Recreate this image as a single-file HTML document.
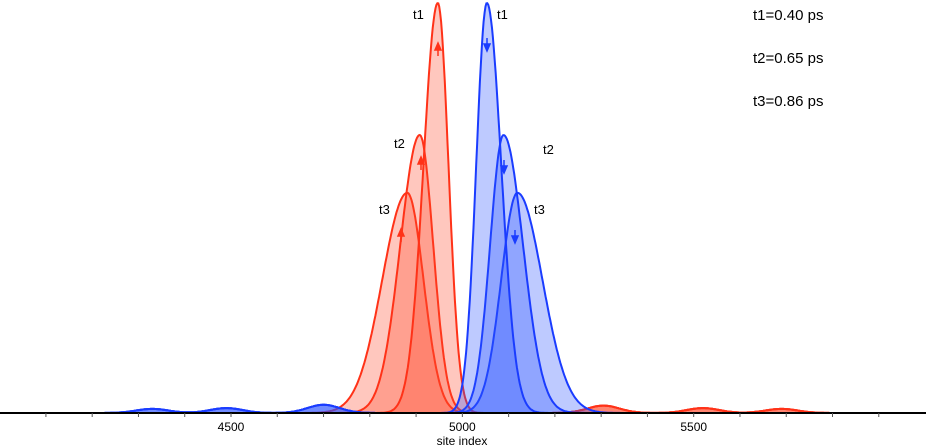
<!DOCTYPE html>
<html><head><meta charset="utf-8"><style>
html,body{margin:0;padding:0;background:#fff;}
svg{display:block;font-family:"Liberation Sans",sans-serif;}
</style></head><body>
<svg id="chart" width="926" height="448"></svg>
<script>
const times=["t1","t2","t3"];
const timeValues=["0.40","0.65","0.86"];
const redCenters=[4947,4908,4881];
const blueCenters=[5053,5089,5119];
const amplitudes=[1.0,0.678,0.537];
const outerWidths=[31,42,54];
const innerWidths=[23,29,35];
const redBumps=[[5305,0.018],[5520,0.012],[5690,0.01]];
const blueBumps=[[4330,0.01],[4490,0.012],[4700,0.02]];
const xTicks=[4500,5000,5500];
const minorTicks=[4100,4200,4300,4400,4500,4600,4700,4800,4900,5000,5100,5200,5300,5400,5500,5600,5700,5800,5900];

const NS="http://www.w3.org/2000/svg";
const svg=document.getElementById('chart');
const xs=v=>231+(v-4500)*0.4627;
const ys=v=>413-v*410;
function mk(t,a,p){const e=document.createElementNS(NS,t);for(const k in a)e.setAttribute(k,a[k]);(p||svg).appendChild(e);return e;}

function curve(c,a,wOut,wIn,dir,bumps){
  let pts=[];
  for(let s=4000;s<=6000;s+=2){
    const inner=(s-c)*dir>0;
    const w=inner?wIn:wOut;
    let v=a*Math.exp(-0.5*((s-c)/w)**2);
    for(const b of bumps)v+=b[1]*Math.exp(-0.5*((s-b[0])/35)**2);
    pts.push([xs(s),ys(v)]);
  }
  return pts;
}
function draw(centers,dir,fill,stroke,bumps,name){
  for(let i=centers.length-1;i>=0;i--){
    const pts=curve(centers[i],amplitudes[i],outerWidths[i],innerWidths[i],dir,bumps);
    const d='M'+pts.map(p=>p[0].toFixed(1)+','+p[1].toFixed(1)).join('L');
    const f=mk('path',{d:d+`L${xs(6000)},413L${xs(4000)},413Z`,fill:fill,stroke:'none'});
    
    
    const l=mk('path',{d:d,fill:'none',stroke:stroke,'stroke-width':2});
    
    
  }
}
draw(redCenters,1,'rgba(255,70,40,0.3)','#ff3218',redBumps,'spin-up');
draw(blueCenters,-1,'rgba(40,80,255,0.3)','#1a3cff',blueBumps,'spin-down');

function arrow(x,y,up,col,name){
  const g=mk('g',{stroke:col,fill:col,'stroke-width':1.5});
  
  
  if(up){mk('line',{x1:x,y1:y+10,x2:x,y2:y},g);mk('polygon',{points:`${x-3},${y+4} ${x+3},${y+4} ${x},${y-3}`},g);}
  else{mk('line',{x1:x,y1:y-10,x2:x,y2:y},g);mk('polygon',{points:`${x-3},${y-4} ${x+3},${y-4} ${x},${y+3}`},g);}
}
arrow(438,46,true,'#ff3218','up-arrow-t1');
arrow(421,160,true,'#ff3218','up-arrow-t2');
arrow(401,232,true,'#ff3218','up-arrow-t3');
arrow(487,48,false,'#1a3cff','down-arrow-t1');
arrow(504,170,false,'#1a3cff','down-arrow-t2');
arrow(515,240,false,'#1a3cff','down-arrow-t3');

const lblPos=[[413,19],[394,148],[379,214],[497,19],[543,154],[534,214]];
lblPos.forEach((p,i)=>{const t=mk('text',{x:p[0],y:p[1],'font-size':13,fill:'#000'});t.textContent=times[i%3];

});

timeValues.forEach((v,i)=>{const t=mk('text',{x:753,y:20+i*43,'font-size':15,fill:'#000'});t.textContent=times[i]+'='+v+' ps';

});

const ax=mk('line',{x1:0,y1:413,x2:926,y2:413,stroke:'#000','stroke-width':2});


minorTicks.forEach(v=>{const t=mk('line',{x1:xs(v),y1:413,x2:xs(v),y2:417,stroke:'#555','stroke-width':1});

});
xTicks.forEach(v=>{const t=mk('text',{x:xs(v),y:431,'font-size':12,'text-anchor':'middle',fill:'#000'});t.textContent=v;

});
const xt=mk('text',{x:462,y:445,'font-size':12,'text-anchor':'middle',fill:'#000'});xt.textContent='site index';


</script>
</body></html>
